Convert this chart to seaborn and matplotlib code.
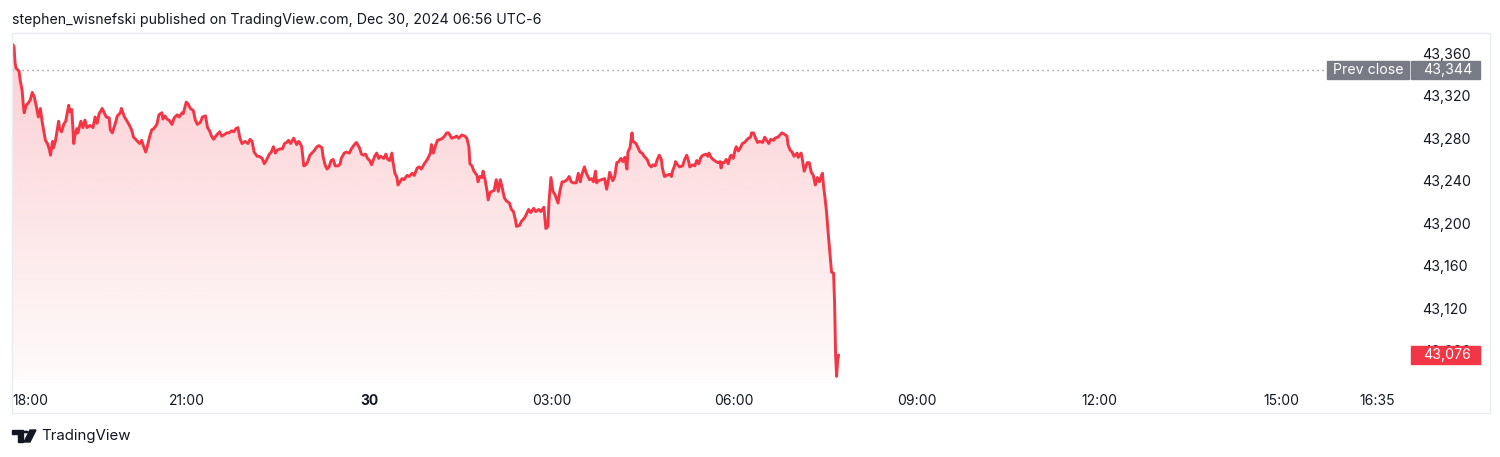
import numpy as np
import pandas as pd
import seaborn as sns
import matplotlib
matplotlib.use("Agg")
import matplotlib.pyplot as plt
from matplotlib.patches import Rectangle, Polygon, Circle
from matplotlib.transforms import blended_transform_factory
from matplotlib.colors import to_rgb

# YM futures, minutes after 18:00 (Dec 29) and price
minutes = [8, 9, 10, 11, 12, 14, 15, 17, 18, 19,
           21, 23, 25, 27, 29, 31, 33, 35, 37, 40,
           42, 44, 45, 47, 48, 50, 53, 54, 56, 58,
           60, 63, 64, 66, 68, 69, 71, 72, 75, 77,
           79, 81, 84, 87, 89, 91, 93, 96, 98, 100,
           103, 104, 106, 109, 111, 114, 115, 118, 120, 123,
           125, 127, 130, 133, 135, 137, 139, 141, 143, 145,
           147, 150, 152, 155, 156, 158, 160, 162, 165, 167,
           170, 172, 175, 176, 179, 181, 183, 186, 188, 190,
           193, 195, 198, 200, 202, 204, 206, 209, 212, 214,
           216, 219, 221, 224, 226, 228, 230, 232, 234, 237,
           240, 242, 244, 246, 249, 251, 254, 256, 258, 261,
           263, 265, 267, 269, 272, 274, 276, 278, 280, 282,
           285, 286, 288, 290, 291, 293, 295, 297, 299, 301,
           303, 305, 308, 310, 313, 314, 316, 318, 320, 322,
           324, 326, 329, 331, 332, 335, 337, 340, 342, 345,
           347, 350, 352, 354, 356, 358, 360, 362, 365, 367,
           369, 371, 374, 376, 378, 380, 382, 383, 385, 387,
           388, 390, 392, 394, 397, 399, 402, 404, 407, 409,
           411, 414, 417, 420, 421, 423, 425, 427, 430, 432,
           434, 436, 438, 441, 444, 446, 448, 451, 454, 456,
           458, 459, 461, 463, 466, 467, 469, 471, 472, 474,
           476, 477, 479, 481, 483, 485, 487, 489, 491, 493,
           495, 498, 500, 502, 504, 505, 508, 510, 513, 515,
           517, 519, 522, 524, 527, 529, 532, 534, 536, 537,
           539, 541, 543, 546, 548, 550, 552, 555, 557, 559,
           561, 564, 566, 568, 569, 572, 574, 577, 579, 581,
           583, 584, 586, 589, 592, 594, 596, 597, 600, 602,
           604, 606, 608, 610, 612, 614, 615, 617, 619, 620,
           623, 625, 627, 629, 631, 634, 636, 638, 640, 642,
           644, 646, 648, 649, 651, 653, 656, 658, 659, 661,
           662, 664, 666, 669, 671, 673, 675, 676, 679, 681,
           683, 685, 687, 689, 692, 694, 695, 697, 699, 702,
           704, 706, 707, 708, 710, 712, 714, 716, 717, 719,
           721, 722, 724, 726, 728, 730, 732, 734, 736, 737,
           739, 741, 743, 745, 748, 750, 752, 754, 756, 759,
           760, 763, 765, 767, 769, 772, 773, 775, 777, 779,
           782, 783, 786, 787, 789, 792, 794, 796, 798, 800,
           802, 804, 806, 807, 808, 810, 811, 813, 815, 816,
           818, 819, 820, 821, 822, 823]
prices = [43368, 43366, 43351, 43346, 43345, 43343, 43335, 43325, 43313, 43304,
          43311, 43313, 43316, 43323, 43319, 43310, 43300, 43308, 43294, 43278,
          43275, 43269, 43264, 43277, 43271, 43278, 43296, 43289, 43286, 43293,
          43296, 43311, 43305, 43307, 43275, 43282, 43289, 43285, 43296, 43290,
          43297, 43290, 43292, 43290, 43300, 43294, 43303, 43308, 43304, 43300,
          43299, 43288, 43285, 43294, 43301, 43304, 43308, 43300, 43297, 43292,
          43288, 43281, 43278, 43275, 43278, 43272, 43267, 43274, 43282, 43288,
          43289, 43293, 43302, 43304, 43298, 43301, 43298, 43297, 43293, 43299,
          43302, 43300, 43304, 43303, 43314, 43312, 43308, 43306, 43297, 43293,
          43295, 43300, 43301, 43290, 43287, 43282, 43279, 43283, 43286, 43282,
          43283, 43285, 43285, 43287, 43286, 43289, 43290, 43280, 43275, 43277,
          43275, 43279, 43277, 43267, 43263, 43263, 43261, 43256, 43259, 43265,
          43267, 43272, 43266, 43269, 43270, 43270, 43275, 43276, 43278, 43275,
          43280, 43278, 43274, 43277, 43276, 43272, 43254, 43255, 43258, 43264,
          43266, 43268, 43272, 43273, 43271, 43263, 43255, 43251, 43253, 43259,
          43260, 43254, 43254, 43256, 43261, 43266, 43267, 43266, 43270, 43274,
          43276, 43271, 43265, 43264, 43265, 43261, 43259, 43255, 43263, 43266,
          43261, 43263, 43261, 43265, 43260, 43259, 43266, 43258, 43247, 43243,
          43236, 43239, 43242, 43241, 43245, 43244, 43247, 43245, 43252, 43253,
          43251, 43256, 43260, 43266, 43274, 43266, 43273, 43278, 43279, 43280,
          43282, 43285, 43285, 43280, 43281, 43282, 43280, 43283, 43282, 43280,
          43272, 43256, 43254, 43249, 43245, 43239, 43244, 43243, 43249, 43241,
          43230, 43222, 43229, 43230, 43231, 43241, 43230, 43241, 43233, 43224,
          43221, 43219, 43213, 43211, 43203, 43197, 43198, 43202, 43205, 43209,
          43213, 43210, 43214, 43211, 43213, 43211, 43215, 43195, 43197, 43219,
          43243, 43230, 43227, 43219, 43231, 43239, 43239, 43241, 43244, 43239,
          43238, 43238, 43247, 43239, 43244, 43253, 43247, 43241, 43242, 43239,
          43249, 43238, 43240, 43241, 43242, 43232, 43242, 43248, 43240, 43244,
          43257, 43258, 43261, 43258, 43262, 43251, 43267, 43271, 43285, 43277,
          43275, 43271, 43267, 43266, 43263, 43260, 43255, 43253, 43255, 43254,
          43260, 43264, 43260, 43252, 43244, 43245, 43246, 43244, 43249, 43254,
          43258, 43255, 43253, 43254, 43260, 43264, 43258, 43253, 43255, 43254,
          43259, 43256, 43262, 43264, 43265, 43263, 43266, 43262, 43260, 43258,
          43257, 43258, 43252, 43257, 43257, 43260, 43256, 43263, 43264, 43261,
          43270, 43272, 43268, 43271, 43275, 43276, 43278, 43280, 43281, 43285,
          43285, 43280, 43276, 43277, 43276, 43281, 43278, 43275, 43279, 43278,
          43280, 43281, 43283, 43285, 43284, 43282, 43274, 43269, 43267, 43263,
          43266, 43262, 43266, 43261, 43249, 43257, 43257, 43248, 43245, 43236,
          43243, 43239, 43245, 43247, 43236, 43220, 43211, 43187, 43165, 43154,
          43153, 43125, 43076, 43056, 43071, 43076]

prev_close = 43344
last_price = 43076
y_ticks = [43080, 43120, 43160, 43200, 43240, 43280, 43320, 43360]
x_ticks = [0, 180, 360, 540, 720, 900, 1080, 1260, 1355]
x_labels = ["18:00", "21:00", "30", "03:00", "06:00", "09:00", "12:00", "15:00", "16:35"]
title = "stephen_wisnefski published on TradingView.com, Dec 30, 2024 06:56 UTC-6"

RED = "#F23645"
GREY = "#787B86"
TXT = "#131722"

sns.set_theme(style="white")
plt.rcParams["font.family"] = ["Inter", "DejaVu Sans"]

W, H = 1500, 457
fig = plt.figure(figsize=(15, 4.57), dpi=100)
fig.patch.set_facecolor("white")
ax = fig.add_axes([12 / W, 1 - 380 / H, 1398 / W, 347 / H])

df = pd.DataFrame({"minute": minutes, "price": prices})
x0, x1 = 7, 1387
y0, y1 = 43052.5, 43379

sns.lineplot(data=df, x="minute", y="price", estimator=None, sort=False,
             color=RED, lw=2.1, ax=ax, zorder=3)

# gradient fill under the line
area = ax.fill_between(df["minute"], df["price"], y0, color="none", lw=0)
grad = np.zeros((256, 1, 4))
grad[..., :3] = to_rgb(RED)
grad[..., 3] = np.linspace(0.25, 0.02, 256)[:, None]
img = ax.imshow(grad, extent=[x0, x1, y0, y1], origin="upper", aspect="auto",
                zorder=1, interpolation="bilinear")
img.set_clip_path(area.get_paths()[0], transform=ax.transData)

ax.set_xlim(x0, x1)
ax.set_ylim(y0, y1)
for s in ax.spines.values():
    s.set_visible(False)
ax.set_xlabel("")
ax.set_ylabel("")

ax.set_xticks([max(t, x0) for t in x_ticks])
ax.set_xticklabels(x_labels)
ax.tick_params(axis="x", length=0, pad=10, labelsize=10, colors=TXT)
xl = ax.get_xticklabels()
xl[0].set_horizontalalignment("left")
xl[2].set_fontweight("bold")

ax.yaxis.tick_right()
ax.set_yticks(y_ticks)
ax.set_yticklabels([f"{v:,}" for v in y_ticks])
ax.tick_params(axis="y", length=0, pad=9, labelsize=10.2, colors=TXT)

# previous close
frac = 1 / 1398
ax.axhline(prev_close, xmin=0, xmax=1313 * frac, color=GREY, lw=1,
           ls=(0, (0.8, 2.8)), zorder=2)
bt = blended_transform_factory(ax.transAxes, ax.transData)
bh = 18 / 1.0625
ax.add_patch(Rectangle((1315 * frac, prev_close - bh / 2), 82 * frac, bh,
                       transform=bt, color=GREY, clip_on=False, zorder=6))
ax.add_patch(Rectangle((1399 * frac, prev_close - bh / 2), 69 * frac, bh,
                       transform=bt, color=GREY, clip_on=False, zorder=6))
ax.text(1356 * frac, prev_close, "Prev close", transform=bt, ha="center",
        va="center", color="white", fontsize=10.2, zorder=7)
ax.text(1411 * frac, prev_close, f"{prev_close:,}", transform=bt, ha="left",
        va="center", color="white", fontsize=10.2, zorder=7)

# last price
ax.add_patch(Rectangle((1399 * frac, last_price - bh / 2), 69 * frac, bh,
                       transform=bt, color=RED, clip_on=False, zorder=6))
ax.text(1411 * frac, last_price, f"{last_price:,}", transform=bt, ha="left",
        va="center", color="white", fontsize=10.2, zorder=7)

# frame, header, footer
fig.add_artist(Rectangle((12 / W, 1 - 413 / H), 1478 / W, 380 / H,
                         transform=fig.transFigure, fill=False,
                         ec="#E9ECF2", lw=1))
fig.text(12 / W, 1 - 20 / H, title, ha="left", va="center", color=TXT, fontsize=10.2)

def fp(x, y):
    return (x / W, 1 - y / H)

fig.add_artist(Polygon([fp(12, 430), fp(23, 430), fp(23, 442), fp(18, 442),
                        fp(18, 434), fp(12, 434)], closed=True,
                       transform=fig.transFigure, color=TXT))
fig.add_artist(Circle(fp(26, 432), 2.2 / W, transform=fig.transFigure, color=TXT))
fig.add_artist(Polygon([fp(24, 442), fp(30, 442), fp(36, 430), fp(30, 430)],
                       closed=True, transform=fig.transFigure, color=TXT))
fig.text(41 / W, 1 - 436 / H, "TradingView", ha="left", va="center",
         color=TXT, fontsize=10.8)

fig.savefig("out.png", dpi=100, facecolor="white")
